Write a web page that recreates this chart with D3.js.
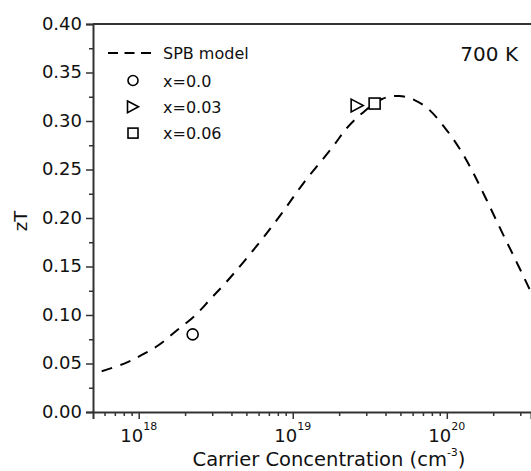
<!DOCTYPE html>
<html>
<head>
<meta charset="utf-8">
<script src="https://cdn.jsdelivr.net/npm/d3@7/dist/d3.min.js"></script>
<style>
  html, body { margin: 0; padding: 0; background: #fff; }
  svg { display: block; font-family: "DejaVu Sans", sans-serif; }
</style>
</head>
<body>
<svg id="chart" width="531" height="471"></svg>
<script>
// SPB model curve: carrier concentration (cm^-3) and zT
const modelN = [5.75e17, 8.13e17, 1.047e18, 1.35e18, 1.78e18, 2.34e18, 2.95e18, 3.72e18,
  5.89e18, 8.32e18, 1.175e19, 1.82e19, 2.24e19, 2.82e19, 3.80e19, 4.90e19,
  6.17e19, 7.59e19, 9.77e19, 1.20e20, 1.48e20, 1.82e20, 2.24e20, 2.75e20, 3.39e20, 3.63e20];
const modelZT = [0.042, 0.0502, 0.0588, 0.0691, 0.0845, 0.100, 0.1172, 0.1343,
  0.172, 0.203, 0.236, 0.2735, 0.2925, 0.308, 0.3227, 0.3258,
  0.3216, 0.3124, 0.2925, 0.2725, 0.247, 0.218, 0.188, 0.159, 0.129, 0.119];

// Measured samples
const sampleLabels = ["x=0.0", "x=0.03", "x=0.06"];
const sampleN = [2.24e18, 2.62e19, 3.4e19];
const sampleZT = [0.080, 0.316, 0.318];
const sampleShapes = ["circle", "triangle", "square"];

// Axis ticks
const yMajorTicks = [0, 0.05, 0.10, 0.15, 0.20, 0.25, 0.30, 0.35, 0.40];
const yMinorTicks = [0.025, 0.075, 0.125, 0.175, 0.225, 0.275, 0.325, 0.375];
const xMajorTicks = [1e18, 1e19, 1e20];
const xMajorExp = ["18", "19", "20"];

const svg = d3.select("#chart");
const plotL = 93, plotT = 24, plotR = 531, plotB = 412;
const axisColor = "#333";

const x = d3.scaleLog().domain([5.05e17, 3.52e20]).range([plotL, plotR]);
const y = d3.scaleLinear().domain([0, 0.40]).range([plotB, plotT]);

const xMinorTicks = [];
[1e17, 1e18, 1e19, 1e20].forEach(d => {
  for (let k = 2; k <= 9; k++) {
    const v = d * k;
    if (v >= x.domain()[0] && v <= x.domain()[1]) xMinorTicks.push(v);
  }
});

// clip for the model curve
svg.append("defs").append("clipPath").attr("id", "plotclip")
  .append("rect").attr("x", plotL).attr("y", plotT).attr("width", plotR - plotL).attr("height", plotB - plotT);

// frame top line
svg.append("line").attr("x1", plotL).attr("x2", plotR).attr("y1", plotT).attr("y2", plotT)
  .attr("stroke", axisColor).attr("stroke-width", 2);

// Y axis
const yAxis = d3.axisLeft(y).tickValues(yMajorTicks).tickSize(7).tickPadding(4)
  .tickFormat(d3.format(".2f"));
const gy = svg.append("g").attr("transform", `translate(${plotL},0)`).call(yAxis);
gy.select(".domain").attr("stroke", axisColor).attr("stroke-width", 2);
gy.selectAll(".tick line").attr("stroke", axisColor).attr("stroke-width", 1.5);
gy.selectAll(".tick text").attr("font-size", 18).attr("fill", "#111")
  .attr("font-family", "DejaVu Sans, sans-serif").attr("dy", "0.28em");
const gyMinor = svg.append("g").attr("transform", `translate(${plotL},0)`)
  .call(d3.axisLeft(y).tickValues(yMinorTicks).tickSize(4).tickFormat(""));
gyMinor.select(".domain").remove();
gyMinor.selectAll(".tick line").attr("stroke", axisColor).attr("stroke-width", 1.5);

// X axis
const gx = svg.append("g").attr("transform", `translate(0,${plotB})`)
  .call(d3.axisBottom(x).tickValues(xMajorTicks).tickSize(7).tickFormat(""));
gx.select(".domain").attr("stroke", axisColor).attr("stroke-width", 2);
gx.selectAll(".tick line").attr("stroke", axisColor).attr("stroke-width", 1.5);
const gxMinor = svg.append("g").attr("transform", `translate(0,${plotB})`)
  .call(d3.axisBottom(x).tickValues(xMinorTicks).tickSize(4).tickFormat(""));
gxMinor.select(".domain").remove();
gxMinor.selectAll(".tick line").attr("stroke", axisColor).attr("stroke-width", 1.5);

// X tick labels as powers of ten
xMajorTicks.forEach((v, i) => {
  const t = svg.append("text").attr("x", x(v)).attr("y", 442)
    .attr("text-anchor", "middle").attr("fill", "#111").attr("font-size", 18);
  t.append("tspan").text("10");
  t.append("tspan").attr("font-size", 11).attr("dy", -12).text(xMajorExp[i]);
});

// Axis titles
const xt = svg.append("text").attr("x", 329).attr("y", 466).attr("text-anchor", "middle")
  .attr("font-size", 19.5).attr("fill", "#111");
xt.append("tspan").text("Carrier Concentration (cm");
xt.append("tspan").attr("font-size", 11).attr("dy", -10).text("-3");
xt.append("tspan").attr("dy", 10).text(")");

svg.append("text").attr("transform", "translate(27,221) rotate(-90)")
  .attr("text-anchor", "middle").attr("font-size", 18).attr("fill", "#111").text("zT");

// Model curve
const modelData = modelN.map((n, i) => ({ n, zt: modelZT[i] }));
const line = d3.line().x(d => x(d.n)).y(d => y(d.zt)).curve(d3.curveCatmullRom.alpha(0.5));
svg.append("path").datum(modelData).attr("d", line)
  .attr("clip-path", "url(#plotclip)")
  .attr("fill", "none").attr("stroke", "#000").attr("stroke-width", 2)
  .attr("stroke-dasharray", "11,8.5");

// Marker drawing
function drawMarker(g, shape, cx, cy, s) {
  if (shape === "circle") {
    g.append("circle").attr("cx", cx).attr("cy", cy).attr("r", s * 0.5);
  } else if (shape === "triangle") {
    const h = s * 0.55;
    g.append("path").attr("d", `M${cx - h},${cy - s * 0.58}L${cx + h},${cy}L${cx - h},${cy + s * 0.58}Z`);
  } else {
    g.append("rect").attr("x", cx - s * 0.5).attr("y", cy - s * 0.5).attr("width", s).attr("height", s);
  }
}

const gm = svg.append("g").attr("fill", "#fff").attr("stroke", "#000").attr("stroke-width", 1.6);
sampleN.forEach((n, i) => drawMarker(gm, sampleShapes[i], x(n), y(sampleZT[i]), 11));

// Legend
const lg = svg.append("g");
lg.append("line").attr("x1", 108).attr("x2", 151).attr("y1", 53).attr("y2", 53)
  .attr("stroke", "#000").attr("stroke-width", 2).attr("stroke-dasharray", "10,6.5");
lg.append("text").attr("x", 163).attr("y", 59).attr("font-size", 16).attr("fill", "#111").text("SPB model");
const legM = lg.append("g").attr("fill", "none").attr("stroke", "#000").attr("stroke-width", 1.6);
sampleLabels.forEach((lab, i) => {
  const yy = 80.5 + i * 26.3;
  drawMarker(legM, sampleShapes[i], 133, yy, 10);
  lg.append("text").attr("x", 163).attr("y", yy + 6).attr("font-size", 16).attr("fill", "#111").text(lab);
});

// Temperature annotation
svg.append("text").attr("x", 518).attr("y", 61).attr("text-anchor", "end")
  .attr("font-size", 20).attr("fill", "#111").text("700 K");
</script>
</body>
</html>
